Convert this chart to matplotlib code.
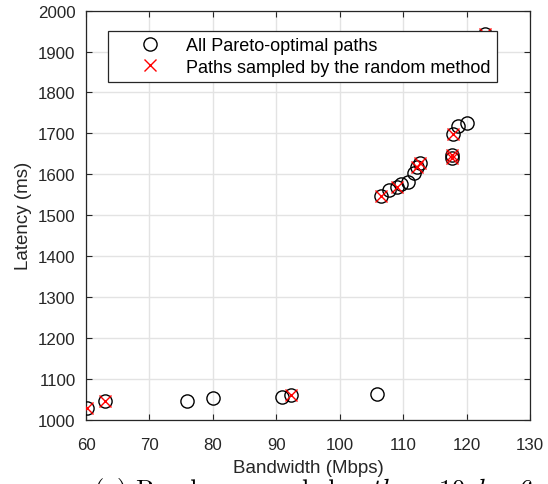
import matplotlib
matplotlib.use("Agg")
import matplotlib.pyplot as plt

plt.rcParams["font.family"] = ["Liberation Sans", "DejaVu Sans"]
plt.rcParams["mathtext.fontset"] = "cm"

# all Pareto-optimal paths: bandwidth (Mbps), latency (ms)
pareto_bw = [60.1, 63.0, 76.0, 80.0, 90.9, 92.3, 105.9,
             106.5, 107.7, 109.0, 109.6, 110.8, 111.7, 112.2, 112.6,
             117.7, 117.7, 117.9, 118.6, 120.1, 122.9]
pareto_lat = [1028, 1045, 1045, 1053, 1056, 1061, 1064,
              1548, 1562, 1569, 1576, 1580, 1603, 1617, 1628,
              1641, 1648, 1698, 1717, 1725, 1944]

# paths picked by the random sampler
sampled_bw = [60.1, 63.0, 92.3, 106.5, 109.0, 112.2, 112.6,
              117.7, 117.7, 117.9, 122.9]
sampled_lat = [1028, 1045, 1061, 1548, 1569, 1617, 1628,
               1641, 1648, 1698, 1944]

x_ticks = [60, 70, 80, 90, 100, 110, 120, 130]
y_ticks = list(range(1000, 2001, 100))

dark = "#262626"

fig = plt.figure(figsize=(5.48, 4.85), dpi=100)
ax = fig.add_axes([0.157, 0.1326, 0.810, 0.8433])

ax.plot(pareto_bw, pareto_lat, "o", ls="none", mfc="none", mec="black",
        ms=9.5, mew=1.0, label="All Pareto-optimal paths", zorder=3)
ax.plot(sampled_bw, sampled_lat, "x", ls="none", color="red",
        ms=8, mew=1.0, label="Paths sampled by the random method", zorder=4)

ax.set_xlim(60, 130)
ax.set_ylim(1000, 2000)
ax.set_xticks(x_ticks)
ax.set_yticks(y_ticks)
ax.grid(True, color="#e3e3e3", lw=1.0)
ax.set_axisbelow(True)
ax.tick_params(direction="in", top=True, right=True, length=4, width=0.8,
               colors=dark, labelsize=12.2)
ax.tick_params(axis="x", pad=12.5)
ax.tick_params(axis="y", pad=7.5)
for s in ax.spines.values():
    s.set_color(dark)
    s.set_linewidth(0.9)

ax.set_xlabel("Bandwidth (Mbps)", fontsize=13.5, color=dark, labelpad=5)
ax.set_ylabel("Latency (ms)", fontsize=13.5, color=dark, labelpad=4)

leg = ax.legend(loc="upper left", bbox_to_anchor=(0.0495, 0.950),
                borderaxespad=0, fontsize=13, handlelength=4.0,
                handletextpad=0.0, borderpad=0.33, labelspacing=0.25,
                fancybox=False, framealpha=1)
leg.get_frame().set_edgecolor(dark)
leg.get_frame().set_linewidth(0.9)
leg.set_zorder(10)

# subfigure caption, cut by the lower edge
fig.text(0.573, -0.027, r"(a) Random sampled $paths = 10, k = 6$",
         ha="center", va="baseline", fontsize=19, family="cmr10")

fig.savefig("out.png", dpi=100)
